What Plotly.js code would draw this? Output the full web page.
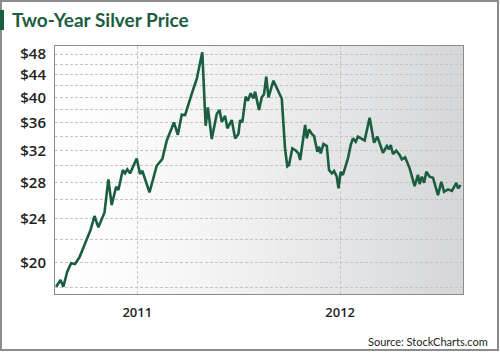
<!DOCTYPE html>
<html>
<head>
<meta charset="utf-8">
<script src="https://cdn.plot.ly/plotly-3.0.1.min.js"></script>
<style>html,body{margin:0;padding:0;background:#fff;}#chart{width:500px;height:355px;}</style>
</head>
<body>
<div id="chart"></div>
<script>
// Approximate weekly silver prices (USD/oz)
const dates = [
  "2010-08-08","2010-08-16","2010-08-21","2010-08-28","2010-09-04","2010-09-11","2010-09-19","2010-10-01",
  "2010-10-09","2010-10-16","2010-10-23","2010-11-03","2010-11-10","2010-11-16","2010-11-24","2010-11-28",
  "2010-12-06","2010-12-10","2010-12-14","2010-12-19","2010-12-31","2011-01-06","2011-01-10","2011-01-23",
  "2011-02-05","2011-02-15","2011-02-23","2011-03-08","2011-03-15","2011-03-22","2011-03-28","2011-04-09",
  "2011-04-18","2011-04-28","2011-05-04","2011-05-08","2011-05-15","2011-05-24","2011-05-29","2011-06-02",
  "2011-06-08","2011-06-12","2011-06-20","2011-06-26","2011-07-02","2011-07-05","2011-07-09","2011-07-15",
  "2011-07-19","2011-07-24","2011-07-29","2011-08-01","2011-08-08","2011-08-13","2011-08-17","2011-08-21",
  "2011-08-25","2011-09-03","2011-09-18","2011-09-24","2011-09-28","2011-10-01","2011-10-07","2011-10-13",
  "2011-10-18","2011-10-21","2011-10-30","2011-11-02","2011-11-06","2011-11-11","2011-11-15","2011-11-21",
  "2011-11-24","2011-11-27","2011-12-02","2011-12-08","2011-12-12","2011-12-17","2011-12-21","2011-12-26",
  "2011-12-29","2012-01-02","2012-01-06","2012-01-15","2012-01-20","2012-01-24","2012-01-29","2012-02-02",
  "2012-02-14","2012-02-23","2012-03-02","2012-03-08","2012-03-18","2012-03-25","2012-03-29","2012-04-01",
  "2012-04-05","2012-04-11","2012-04-17","2012-04-21","2012-04-27","2012-05-05","2012-05-14","2012-05-20",
  "2012-05-23","2012-05-27","2012-05-31","2012-06-04","2012-06-10","2012-06-16","2012-06-25","2012-07-01",
  "2012-07-06","2012-07-13","2012-07-20","2012-07-28","2012-07-31","2012-08-05"
];
const prices = [
  18.05,18.57,18.05,19.23,19.92,19.86,20.43,21.81,
  22.92,24.30,23.17,24.64,28.34,25.45,27.48,27.10,
  29.48,29.07,29.56,29.07,30.94,28.99,29.39,26.83,
  30.01,30.87,33.34,36.01,34.19,37.19,37.14,40.58,
  43.21,48.35,35.51,38.36,33.58,37.30,37.93,36.10,
  36.99,35.12,36.37,33.67,34.30,36.37,36.01,40.12,
  39.45,40.70,39.84,40.97,37.93,40.01,40.52,43.64,
  40.01,42.91,39.76,32.13,29.94,30.10,32.29,32.00,
  31.62,30.74,35.62,33.67,34.97,34.30,34.01,31.83,
  32.51,31.62,32.88,32.61,29.48,29.07,29.35,28.66,
  27.29,29.26,28.87,30.96,32.74,33.67,33.20,33.91,
  33.37,36.71,33.06,33.91,31.70,32.61,32.16,32.74,
  31.53,31.97,31.40,30.83,31.09,29.69,27.56,28.87,
  27.79,28.66,27.94,29.26,28.66,28.54,26.53,28.06,
  26.90,27.18,27.01,27.94,27.29,27.67
];
const yGridValues = [18,20,22,24,26,28,30,32,34,36,38,40,42,44,46,48];
const yLabelValues = [20,24,28,32,36,40,44,48];
const xTickDates = ["2011-01-01","2012-01-01"];
const xTickLabels = ["2011","2012"];

const GREEN = "#1b5e3f";
const yTickText = yGridValues.map(v => yLabelValues.includes(v) ? "$" + v : "");

// gradient background stripes (white -> gray)
const shapes = [];
const N = 100;
for (let i = 0; i < N; i++) {
  const t = Math.pow((i + 0.5) / N, 1.3);
  const r = Math.round(255 - t * 42), g = Math.round(255 - t * 41), b = Math.round(255 - t * 39);
  shapes.push({type: "rect", xref: "paper", yref: "paper", x0: i / N, x1: (i + 1) / N + 0.002,
    y0: 0, y1: 1, fillcolor: `rgb(${r},${g},${b})`, line: {width: 0}, layer: "below"});
}
// outer frame
shapes.push({type: "rect", xref: "paper", yref: "paper", x0: -0.1324, x1: 1.0858, y0: -0.2258, y1: 1.1815,
  line: {color: "#8c8c8c", width: 2}, fillcolor: "rgba(0,0,0,0)", layer: "above"});
// green title marker
shapes.push({type: "rect", xref: "paper", yref: "paper", x0: -0.1348, x1: -0.125, y0: 1.0645, y1: 1.1452,
  line: {width: 0}, fillcolor: GREEN, layer: "above"});

const trace = {
  x: dates, y: prices, type: "scatter", mode: "lines",
  line: {color: GREEN, width: 2.6}, hoverinfo: "skip"
};

const layout = {
  width: 500, height: 355,
  margin: {l: 55, r: 37, t: 46, b: 61},
  paper_bgcolor: "#ffffff", plot_bgcolor: "rgba(0,0,0,0)",
  showlegend: false,
  title: {text: "Two-Year Silver Price", x: 0.024, xanchor: "left", xref: "container",
    y: 1 - 20.5 / 355, yref: "container", yanchor: "middle",
    font: {family: "Lato, 'Open Sans', sans-serif", size: 19, color: GREEN, weight: 700}},
  xaxis: {type: "date", range: ["2010-08-06", "2012-08-09"],
    tickmode: "array", tickvals: xTickDates, ticktext: xTickLabels,
    showgrid: true, gridcolor: "#c4c4c4", gridwidth: 1, griddash: "3px,2px",
    showline: true, mirror: true, linecolor: "#8c8c8c", linewidth: 1,
    ticks: "", ticklabelstandoff: 6, zeroline: false,
    tickfont: {family: "'Open Sans', sans-serif", size: 13, color: "#222", weight: 600}},
  yaxis: {type: "log", range: [Math.log10(17.51), Math.log10(49.64)],
    tickmode: "array", tickvals: yGridValues, ticktext: yTickText,
    showgrid: true, gridcolor: "#c4c4c4", gridwidth: 1, griddash: "3px,2px",
    showline: true, mirror: true, linecolor: "#8c8c8c", linewidth: 1,
    ticks: "", ticklabelstandoff: 5, zeroline: false,
    tickfont: {family: "'Open Sans', sans-serif", size: 15, color: "#222", weight: 600}},
  shapes: shapes,
  annotations: [{text: "Source: StockCharts.com", xref: "paper", yref: "paper",
    x: 1.0662, y: -0.1935, xanchor: "right", yanchor: "middle", showarrow: false,
    font: {family: "Lato, 'Open Sans', sans-serif", size: 11, color: "#222"}}]
};

Plotly.newPlot("chart", [trace], layout, {staticPlot: true, displayModeBar: false});
</script>
</body>
</html>
